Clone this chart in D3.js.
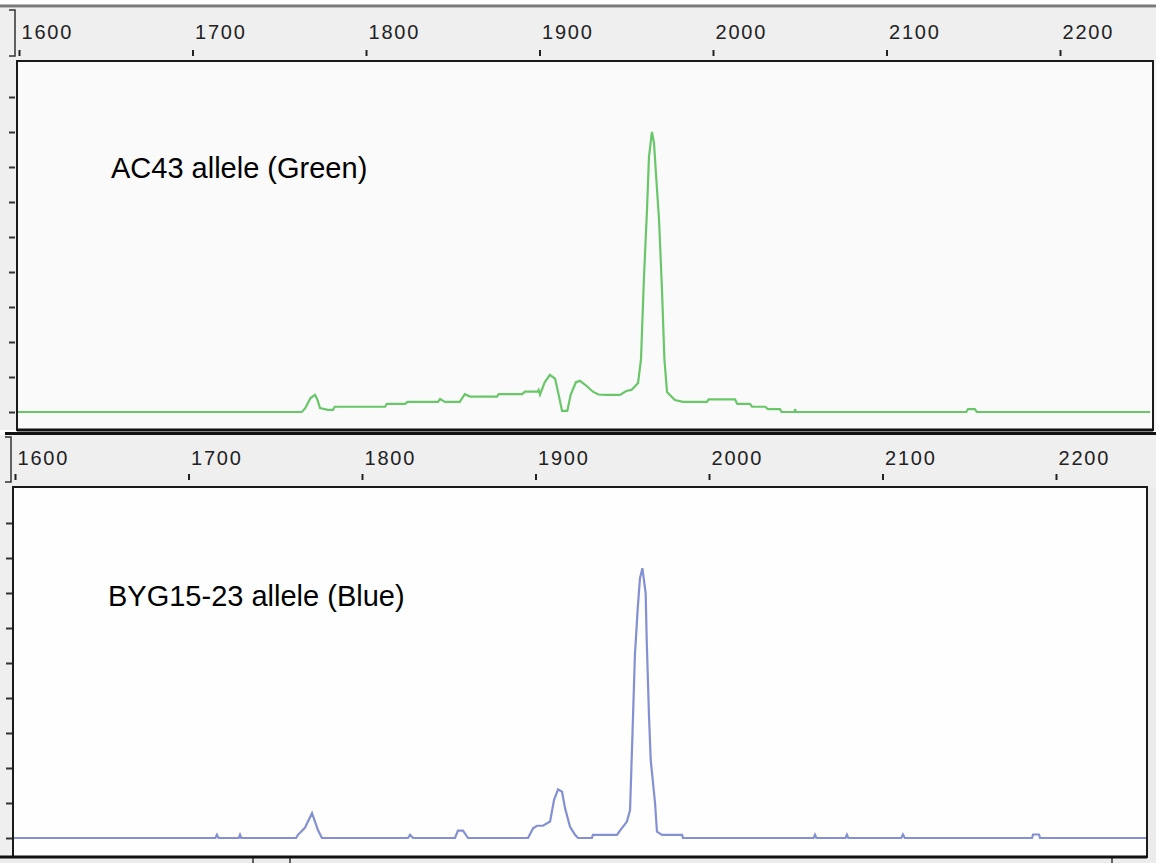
<!DOCTYPE html>
<html>
<head>
<meta charset="utf-8">
<script src="https://cdn.jsdelivr.net/npm/d3@7"></script>
<style>
  html, body { margin: 0; padding: 0; background: #ffffff; }
  svg { display: block; }
</style>
</head>
<body>
<svg id="chart" width="1156" height="863"></svg>
<script>
// ---------- data ----------
const rulerTicks = [1600, 1700, 1800, 1900, 2000, 2100, 2200];
const yTicks = [0, 1, 2, 3, 4, 5, 6, 7, 8, 9];

const greenLabel = "AC43 allele (Green)";
const blueLabel = "BYG15-23 allele (Blue)";

const greenX = [1598, 1763, 1765, 1768, 1770.6, 1772, 1773.5, 1778, 1781, 1782, 1811, 1812, 1822.5, 1824,
  1841.5, 1842.7, 1845.5, 1854, 1857, 1860, 1875.5, 1876.5, 1890, 1891.6, 1899, 1899.5, 1900.3, 1903,
  1906, 1909, 1911, 1913, 1916, 1918, 1921, 1923.3, 1927, 1930.8, 1934, 1937.8, 1946.4, 1950, 1953,
  1956.8, 1958.5, 1960.2, 1962, 1963.1, 1964.8, 1966, 1967.1, 1968.9, 1970.6, 1972, 1973.5, 1978,
  1982.7, 1996.5, 1997.5, 2012.7, 2014, 2021.3, 2022.5, 2030, 2031.7, 2038.6, 2039.5, 2047, 2047.3,
  2047.8, 2146, 2147, 2151, 2152, 2252];
const greenY = [0, 0, 0.11, 0.4, 0.49, 0.35, 0.11, 0.06, 0.06, 0.15, 0.15, 0.23, 0.23, 0.29,
  0.29, 0.37, 0.29, 0.29, 0.51, 0.44, 0.44, 0.51, 0.51, 0.58, 0.58, 0.63, 0.5, 0.85,
  1.06, 0.95, 0.5, 0.03, 0.03, 0.5, 0.85, 0.89, 0.75, 0.58, 0.5, 0.49, 0.49, 0.6, 0.63,
  0.83, 1.5, 3.83, 5.83, 7.29, 8.0, 7.69, 6.83, 5.49, 3.49, 1.5, 0.57, 0.34,
  0.29, 0.29, 0.36, 0.36, 0.23, 0.23, 0.15, 0.15, 0.08, 0.08, 0, 0, 0.08,
  0, 0, 0.08, 0.08, 0, 0];

const blueX = [1598, 1715.5, 1716.4, 1717.3, 1729, 1729.7, 1730.4, 1762, 1763.1, 1767.1, 1771.2, 1772.9, 1774.6,
  1776.9, 1826.5, 1827.7, 1829.4, 1853.6, 1855.3, 1858.2, 1861.1, 1895.7, 1898.6, 1900.9, 1904.3,
  1908.4, 1910.7, 1913.0, 1915.3, 1917.0, 1919.9, 1922.8, 1924.5, 1932.5, 1933.1, 1947.0, 1948.7, 1952.7,
  1954.5, 1956.0, 1957.3, 1958.9, 1960.2, 1961.6, 1962.5, 1963.5, 1964.1, 1965.4, 1966.4, 1968.9,
  1970.0, 1972.9, 1977.5, 1984.5, 1985.0, 2060.3, 2061.1, 2061.9, 2078.7, 2079.5, 2080.3, 2110.8, 2111.8,
  2112.8, 2186.2, 2186.8, 2190.2, 2190.8, 2252];
const blueY = [0, 0, 0.09, 0, 0, 0.09, 0, 0, 0.09, 0.29, 0.71, 0.47, 0.23,
  0, 0, 0.09, 0, 0, 0.21, 0.21, 0, 0, 0.28, 0.35, 0.35,
  0.47, 1.09, 1.39, 1.32, 0.86, 0.32, 0.09, 0, 0, 0.09, 0.09, 0.21, 0.47,
  0.8, 3.14, 5.23, 6.54, 7.42, 7.71, 7.37, 6.99, 5.66, 3.51, 2.23, 1.0,
  0.18, 0.09, 0.09, 0.09, 0, 0, 0.09, 0, 0, 0.09, 0, 0, 0.1,
  0, 0, 0.1, 0.1, 0, 0];

// ---------- drawing ----------
const svg = d3.select("#chart");
const bandFill = "#efefef";

const panels = [
  { rulerLineY: 6, rulerLineColor: "#7a7a7a", rulerLineW: 3, bandTop: 8,
    frame: { x0: 17, y0: 61, x1: 1153, y1: 430 }, tickY: 50, labelY: 39,
    bracketX: 15, bracketArm: 6, bracketY0: 10, bracketY1: 56,
    leftTickX: 15, baseline: 412, unit: 35, xStart: 19, plotFill: "#fafafa",
    xs: greenX, ys: greenY, color: "#69c769", label: greenLabel, labelX: 111, labelBase: 178 },
  { rulerLineY: 433.5, rulerLineColor: "#111", rulerLineW: 3, bandTop: 435,
    frame: { x0: 13, y0: 487, x1: 1147, y1: 857 }, tickY: 474, labelY: 465,
    bracketX: 11, bracketArm: 6, bracketY0: 437, bracketY1: 482,
    leftTickX: 12, baseline: 838, unit: 35, xStart: 15, plotFill: "#fefefe",
    xs: blueX, ys: blueY, color: "#8390d2", label: blueLabel, labelX: 108, labelBase: 606 }
];

// bottom gray strip under lower panel
svg.append("rect").attr("x", 0).attr("y", 857).attr("width", 1156).attr("height", 6).attr("fill", "#ececec");
[253, 290, 1112].forEach(px => {
  svg.append("line").attr("x1", px).attr("x2", px).attr("y1", 858).attr("y2", 863)
    .attr("stroke", "#333").attr("stroke-width", 1.5);
});

panels.forEach((p, i) => {
  const f = p.frame;
  const x = d3.scaleLinear().domain([1600, 2200]).range([p.xStart, p.xStart + 6 * 173.5]);
  const y = d3.scaleLinear().domain([0, 9]).range([p.baseline, p.baseline - 9 * p.unit]);

  const g = svg.append("g");

  // ruler band
  g.append("rect").attr("x", 0).attr("y", p.bandTop).attr("width", 1156).attr("height", f.y0 - p.bandTop)
    .attr("fill", bandFill);
  // left band
  g.append("rect").attr("x", 0).attr("y", f.y0).attr("width", f.x0).attr("height", f.y1 - f.y0)
    .attr("fill", bandFill);
  // right band
  g.append("rect").attr("x", f.x1).attr("y", f.y0).attr("width", 1156 - f.x1).attr("height", f.y1 - f.y0)
    .attr("fill", i === 0 ? "#f4f4f4" : "#ececec");
  // ruler top line
  g.append("line").attr("x1", i === 0 ? 0 : 5).attr("x2", 1156).attr("y1", p.rulerLineY).attr("y2", p.rulerLineY)
    .attr("stroke", p.rulerLineColor).attr("stroke-width", p.rulerLineW);

  // bracket
  g.append("path")
    .attr("d", `M${p.bracketX - p.bracketArm},${p.bracketY0}H${p.bracketX}V${p.bracketY1}H${p.bracketX - p.bracketArm}`)
    .attr("fill", "none").attr("stroke", "#333").attr("stroke-width", 1.5);

  // top ruler axis
  const ax = d3.axisBottom(x).tickValues(rulerTicks).tickSize(6).tickFormat(d3.format("d"));
  const axg = g.append("g").attr("transform", `translate(0,${p.tickY})`).call(ax);
  axg.select(".domain").remove();
  axg.selectAll(".tick line").attr("stroke", "#222").attr("stroke-width", 2);
  axg.selectAll(".tick text")
    .attr("text-anchor", "start").attr("x", 2).attr("y", p.labelY - p.tickY).attr("dy", 0)
    .attr("fill", "#222")
    .style("font-family", "'Liberation Sans', Arial, sans-serif")
    .style("font-size", "20px")
    .style("letter-spacing", "1.8px");

  // plot background
  g.append("rect").attr("x", f.x0).attr("y", f.y0).attr("width", f.x1 - f.x0).attr("height", f.y1 - f.y0)
    .attr("fill", p.plotFill);

  // left axis ticks
  const ay = d3.axisLeft(y).tickValues(yTicks).tickSize(6).tickFormat("");
  const ayg = g.append("g").attr("transform", `translate(${p.leftTickX},0)`).call(ay);
  ayg.select(".domain").remove();
  ayg.selectAll(".tick line").attr("stroke", "#333").attr("stroke-width", 2);

  // clip
  const clipId = "clip" + i;
  svg.append("clipPath").attr("id", clipId).append("rect")
    .attr("x", f.x0).attr("y", f.y0).attr("width", f.x1 - f.x0).attr("height", f.y1 - f.y0);

  const data = p.xs.map((v, k) => [v, p.ys[k]]);
  const line = d3.line().x(d => x(d[0])).y(d => y(d[1])).curve(d3.curveLinear);
  g.append("path").datum(data).attr("clip-path", `url(#${clipId})`)
    .attr("d", line).attr("fill", "none").attr("stroke", p.color).attr("stroke-width", 2.2)
    .attr("stroke-linejoin", "miter");

  // frame
  g.append("rect").attr("x", f.x0).attr("y", f.y0).attr("width", f.x1 - f.x0).attr("height", f.y1 - f.y0)
    .attr("fill", "none").attr("stroke", "#1a1a1a").attr("stroke-width", 2);
  // heavier bottom
  g.append("line").attr("x1", i === 0 ? f.x0 : 0).attr("x2", f.x1).attr("y1", f.y1).attr("y2", f.y1)
    .attr("stroke", "#111").attr("stroke-width", 3);

  // label
  g.append("text").attr("x", p.labelX).attr("y", p.labelBase).text(p.label)
    .attr("fill", "#000")
    .style("font-family", "'Liberation Sans', Arial, sans-serif")
    .style("font-size", "29px");
});
</script>
</body>
</html>
